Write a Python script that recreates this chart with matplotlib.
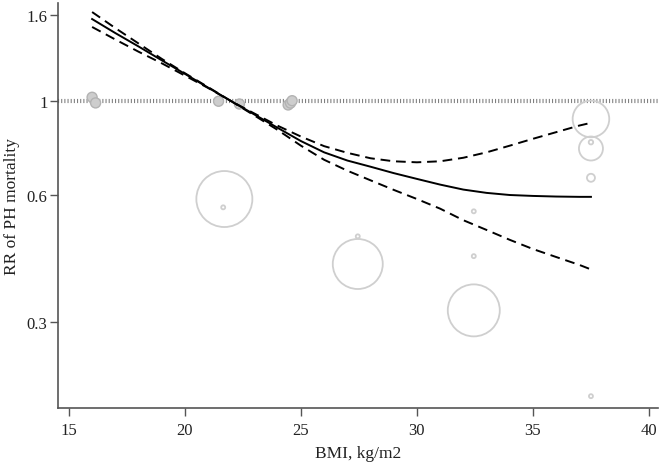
import numpy as np
import matplotlib
matplotlib.use("Agg")
import matplotlib.pyplot as plt

plt.rcParams['font.family'] = ['Liberation Serif', 'DejaVu Serif']

# ---- data ----
# fitted dose-response curve (BMI, RR) with 95% CI
curve_bmi = [16, 17, 18, 19, 20, 21, 22, 23, 24, 25, 26, 27, 28, 29, 30,
             31, 32, 33, 34, 35, 36, 37, 37.5]
curve_rr  = [1.565, 1.45, 1.348, 1.25, 1.161, 1.077, 1.0, 0.93, 0.865, 0.805,
             0.757, 0.724, 0.700, 0.676, 0.655, 0.635, 0.618, 0.607, 0.600,
             0.597, 0.595, 0.594, 0.594]
upper_rr  = [1.626, 1.49, 1.37, 1.26, 1.165, 1.08, 1.0, 0.935, 0.875, 0.825,
             0.783, 0.755, 0.733, 0.721, 0.717, 0.721, 0.735, 0.757, 0.785,
             0.815, 0.845, 0.876, 0.889]
lower_rr  = [1.499, 1.40, 1.31, 1.23, 1.15, 1.075, 1.0, 0.925, 0.855, 0.785,
             0.727, 0.685, 0.650, 0.617, 0.587, 0.557, 0.523, 0.496, 0.470,
             0.447, 0.428, 0.410, 0.400]

# reference-category study points (filled)
ref_bmi = [16.0, 16.15, 21.45, 22.35, 24.45, 24.55, 24.62]
ref_rr  = [1.022, 0.991, 1.000, 0.985, 0.980, 0.990, 1.003]
ref_w   = [25, 25, 25, 25, 25, 25, 25]

# study-specific estimates (hollow bubbles), weight ~ bubble area
est_bmi = [21.7, 21.65, 27.45, 27.45, 32.45, 32.45, 32.45, 37.5, 37.5, 37.5, 37.5, 37.5]
est_rr  = [0.587, 0.561, 0.412, 0.479, 0.320, 0.430, 0.549, 0.908, 0.773, 0.800, 0.659, 0.2005]
est_w   = [784, 4, 625, 4, 676, 4, 4, 335, 144, 5, 16, 4]

x_ticks = [15, 20, 25, 30, 35, 40]
y_ticks = [0.3, 0.6, 1, 1.6]
y_tick_labels = ["0.3", "0.6", "1", "1.6"]

DPI = 100
fig = plt.figure(figsize=(6.61, 4.64), dpi=DPI)
ax = fig.add_axes([58/661, 55/464, 600/661, 405/464])

px2pt = 72.0 / DPI
def sizes(w):
    return [(2 * np.sqrt(v) * px2pt) ** 2 for v in w]

ax.set_yscale('log')
ax.set_xlim(14.53, 40.39)
ax.set_ylim(0.188, 1.708)

# reference line at 1
ax.axhline(1.0, color='#808080', lw=3, linestyle=(0, (0.26, 0.5)),
           dash_capstyle='butt', zorder=1)

# bubbles
ax.scatter(est_bmi, est_rr, s=sizes(est_w), facecolors='none',
           edgecolors='#cfcfcf', linewidths=1.3, zorder=2)
ax.scatter(ref_bmi, ref_rr, s=sizes(ref_w), facecolors='#cdcdcd',
           edgecolors='#b3b3b3', linewidths=1.0, zorder=2)

# curves
ax.plot(curve_bmi, curve_rr, color='black', lw=1.4, zorder=3)
ax.plot(curve_bmi, upper_rr, color='black', lw=1.4, linestyle=(0, (5, 3)), zorder=3)
ax.plot(curve_bmi, lower_rr, color='black', lw=1.4, linestyle=(0, (5, 3)), zorder=3)

ax.set_xticks(x_ticks)
ax.set_xticklabels([str(t) for t in x_ticks])
ax.yaxis.set_minor_locator(matplotlib.ticker.NullLocator())
ax.set_yticks(y_ticks)
ax.set_yticklabels(y_tick_labels)

for s in ['top', 'right']:
    ax.spines[s].set_visible(False)
for s in ['left', 'bottom']:
    ax.spines[s].set_color('#555555')
    ax.spines[s].set_linewidth(1.2)

ax.tick_params(axis='both', direction='out', length=6, width=1,
               color='#555555', labelsize=12, labelcolor='#222222')
ax.tick_params(axis='x', pad=4)
ax.tick_params(axis='y', pad=1.5)

ax.set_xlabel('BMI, kg/m2', fontsize=12.5, color='#222222', labelpad=5)
ax.set_ylabel('RR of PH mortality', fontsize=12.5, color='#222222', labelpad=5)

fig.savefig('out.png', dpi=DPI)
